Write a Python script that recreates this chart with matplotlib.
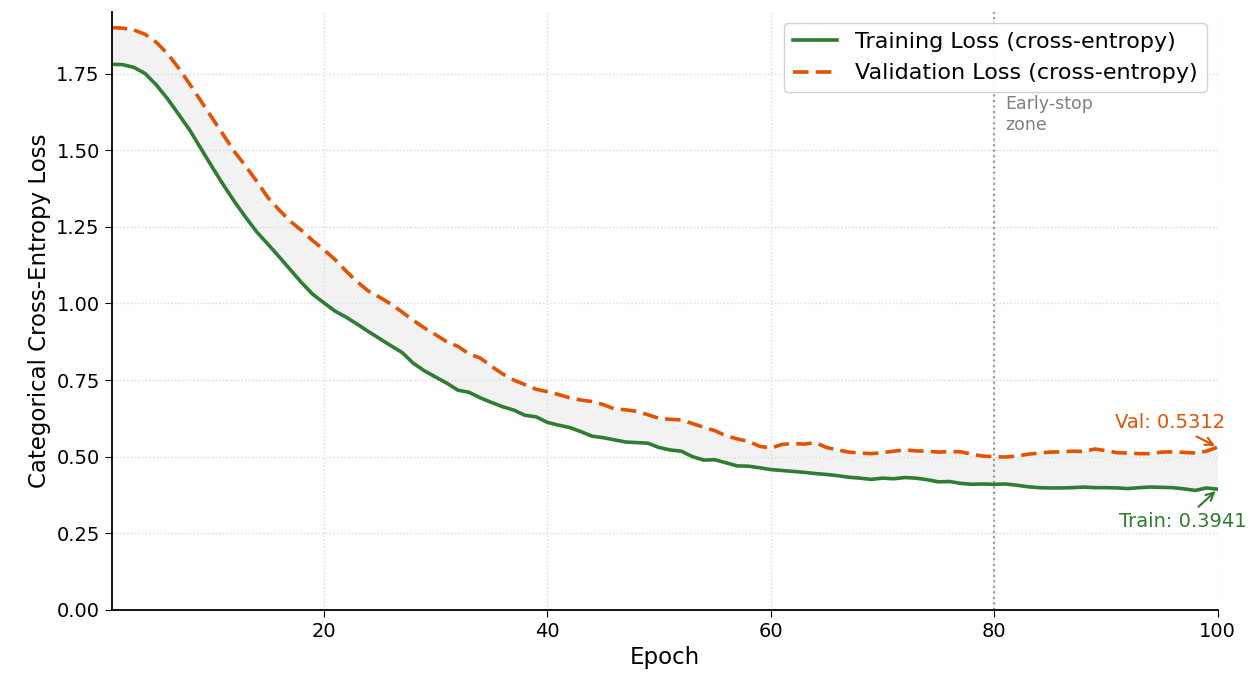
import matplotlib
matplotlib.use("Agg")
import matplotlib.pyplot as plt
import numpy as np

# values
epochs = np.arange(1, 101)
train_loss = [
    1.780, 1.779, 1.770, 1.750, 1.713, 1.668, 1.617, 1.565, 1.505, 1.445,
    1.387, 1.332, 1.281, 1.233, 1.193, 1.152, 1.110, 1.068, 1.030, 1.002,
    0.975, 0.955, 0.932, 0.908, 0.885, 0.862, 0.840, 0.805, 0.780, 0.760,
    0.740, 0.717, 0.710, 0.692, 0.677, 0.663, 0.652, 0.635, 0.630, 0.612,
    0.603, 0.595, 0.582, 0.567, 0.562, 0.555, 0.548, 0.546, 0.544, 0.530,
    0.522, 0.518, 0.500, 0.489, 0.490, 0.480, 0.470, 0.469, 0.464, 0.458,
    0.455, 0.452, 0.449, 0.445, 0.442, 0.438, 0.433, 0.430, 0.426, 0.430,
    0.428, 0.432, 0.430, 0.425, 0.418, 0.419, 0.413, 0.410, 0.411, 0.410,
    0.411, 0.407, 0.402, 0.399, 0.398, 0.398, 0.399, 0.401, 0.399, 0.399,
    0.398, 0.396, 0.399, 0.401, 0.400, 0.399, 0.395, 0.390, 0.398, 0.3941,
]
val_loss = [
    1.900, 1.898, 1.892, 1.878, 1.852, 1.815, 1.768, 1.715, 1.660, 1.605,
    1.550, 1.495, 1.448, 1.398, 1.345, 1.305, 1.268, 1.238, 1.205, 1.175,
    1.143, 1.105, 1.070, 1.040, 1.020, 0.998, 0.972, 0.945, 0.920, 0.898,
    0.875, 0.860, 0.835, 0.822, 0.795, 0.770, 0.750, 0.735, 0.720, 0.712,
    0.703, 0.692, 0.685, 0.680, 0.670, 0.656, 0.653, 0.648, 0.637, 0.625,
    0.622, 0.620, 0.608, 0.596, 0.585, 0.568, 0.558, 0.550, 0.534, 0.528,
    0.540, 0.543, 0.541, 0.546, 0.530, 0.522, 0.515, 0.512, 0.510, 0.513,
    0.518, 0.522, 0.519, 0.518, 0.515, 0.517, 0.516, 0.508, 0.502, 0.500,
    0.499, 0.502, 0.508, 0.512, 0.515, 0.516, 0.518, 0.517, 0.525, 0.520,
    0.513, 0.512, 0.510, 0.510, 0.515, 0.516, 0.514, 0.512, 0.518, 0.5312,
]
early_stop_epoch = 80

train_color = "#2e7d32"
val_color = "#e65100"

fig, ax = plt.subplots(figsize=(12.54, 6.8), dpi=100)
fig.subplots_adjust(left=0.089, right=0.971, bottom=0.103, top=0.982)

ax.fill_between(epochs, train_loss, val_loss, color="#e6e6e6", alpha=0.5, lw=0)
ax.plot(epochs, train_loss, color=train_color, lw=2.6, label="Training Loss (cross-entropy)")
ax.plot(epochs, val_loss, color=val_color, lw=2.6, ls="--", dashes=(4.3, 2.0),
        label="Validation Loss (cross-entropy)")

ax.axvline(early_stop_epoch, color="gray", ls=":", lw=1.5, alpha=0.8)
ax.text(early_stop_epoch + 1, 1.68, "Early-stop\nzone", color="gray", fontsize=12.5,
        va="top", ha="left")

ax.annotate(f"Val: {val_loss[-1]:.4f}", xy=(epochs[-1], val_loss[-1]),
            xytext=(95.7, 0.61), color=val_color, fontsize=14, ha="center", va="center",
            arrowprops=dict(arrowstyle="->", color=val_color, lw=1.5))
ax.annotate(f"Train: {train_loss[-1]:.4f}", xy=(epochs[-1], train_loss[-1]),
            xytext=(96.9, 0.29), color=train_color, fontsize=14, ha="center", va="center",
            arrowprops=dict(arrowstyle="->", color=train_color, lw=1.5))

ax.set_xlim(1, 100)
ax.set_ylim(0, 1.95)
ax.set_xticks([20, 40, 60, 80, 100])
ax.set_yticks(np.arange(0, 1.76, 0.25))
ax.yaxis.set_major_formatter(plt.FormatStrFormatter("%.2f"))
ax.tick_params(labelsize=14, length=5)
ax.set_xlabel("Epoch", fontsize=16.5)
ax.set_ylabel("Categorical Cross-Entropy Loss", fontsize=16.5)
ax.grid(True, ls=":", color="#d9d9d9", lw=1)
ax.spines["top"].set_visible(False)
ax.spines["right"].set_visible(False)
ax.spines["left"].set_linewidth(1.3)
ax.spines["bottom"].set_linewidth(1.3)

ax.legend(loc="upper right", fontsize=16, framealpha=0.9, edgecolor="#cccccc")

fig.savefig("out.png", dpi=100)
